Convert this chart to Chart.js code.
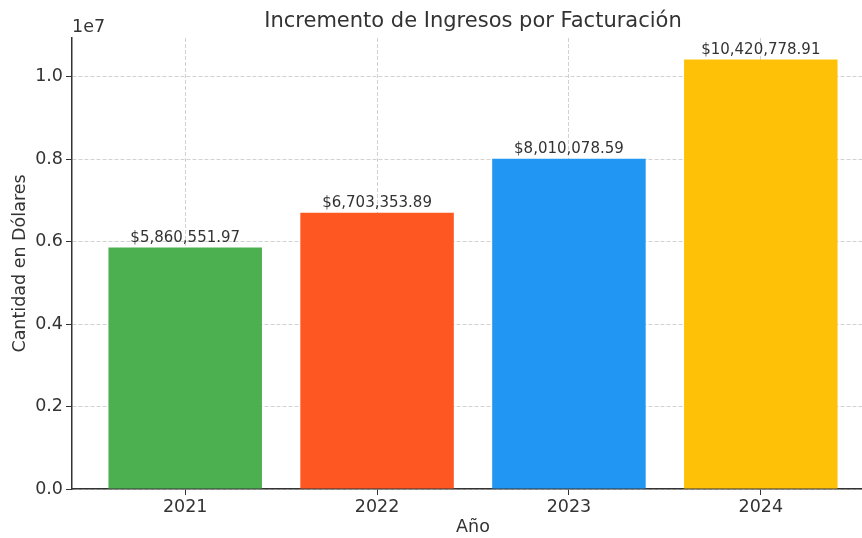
<!DOCTYPE html>
<html>
<head>
<meta charset="utf-8">
<script src="https://cdn.jsdelivr.net/npm/chart.js@4.4.1/dist/chart.umd.min.js"></script>
<style>
  html, body { margin: 0; padding: 0; background: #fff; overflow: hidden; }
  #wrap { width: 880px; height: 538px; }
</style>
</head>
<body>
<div id="wrap"><canvas id="revenueChart" width="880" height="538"></canvas></div>
<script>
const years = ['2021', '2022', '2023', '2024'];
const revenues = [5860551.97, 6703353.89, 8010078.59, 10420778.91];
const barColors = ['#4CAF50', '#FF5722', '#2196F3', '#FFC107'];
const yTicks = [0, 2000000, 4000000, 6000000, 8000000, 10000000];

const textColor = '#333333';
const fontFamily = 'DejaVu Sans';

function money(v) {
    return '$' + v.toLocaleString('en-US', { minimumFractionDigits: 2, maximumFractionDigits: 2 });
}

const extraText = {
    id: 'extraText',
    afterDraw(chart) {
        const ctx = chart.ctx;
        const area = chart.chartArea;
        ctx.save();
        ctx.fillStyle = textColor;

        // title
        ctx.font = '21px "' + fontFamily + '"';
        ctx.textAlign = 'center';
        ctx.textBaseline = 'middle';
        ctx.fillText('Incremento de Ingresos por Facturación', (area.left + area.right) / 2, 22);

        // offset text of the y axis
        ctx.font = '17.5px "' + fontFamily + '"';
        ctx.textAlign = 'left';
        ctx.textBaseline = 'bottom';
        ctx.fillText('1e7', area.left, area.top - 2);

        // value above each bar
        ctx.font = '15px "' + fontFamily + '"';
        ctx.textAlign = 'center';
        const meta = chart.getDatasetMeta(0);
        meta.data.forEach(function (bar, i) {
            ctx.fillText(money(revenues[i]), bar.x, bar.y - 2);
        });
        ctx.restore();
    }
};

const ctx = document.getElementById('revenueChart');
new Chart(ctx, {
    type: 'bar',
    data: {
        datasets: [{
            label: 'Ingresos',
            data: revenues.map(function (v, i) { return { x: i, y: v }; }),
            backgroundColor: barColors,
            borderWidth: 0,
            barPercentage: 0.8,
            categoryPercentage: 1.0
        }]
    },
    options: {
        responsive: false,
        animation: false,
        layout: { padding: { top: 38, left: 0, right: 6, bottom: 0 } },
        plugins: {
            legend: { display: false },
            tooltip: { enabled: false }
        },
        scales: {
            x: {
                type: 'linear',
                min: -0.59,
                max: 3.59,
                offset: false,
                z: 1,
                afterBuildTicks: function (scale) {
                    scale.ticks = years.map(function (y, i) { return { value: i }; });
                },
                afterFit: function (scale) { scale.height = 49; },
                ticks: {
                    color: textColor,
                    font: { family: fontFamily, size: 17.5 },
                    padding: 2,
                    maxRotation: 0,
                    callback: function (v) { return years[v]; }
                },
                grid: {
                    offset: false,
                    color: 'rgba(180,180,180,0.6)',
                    tickColor: textColor,
                    tickLength: 6,
                    lineWidth: 1
                },
                border: { display: true, color: textColor, width: 1.5, dash: [4, 2] },
                title: {
                    display: true,
                    text: 'Año',
                    color: textColor,
                    font: { family: fontFamily, size: 17.5 },
                    padding: { top: 0, bottom: 0 }
                }
            },
            y: {
                min: 0,
                max: Math.max.apply(null, revenues) * 1.05,
                z: 1,
                afterBuildTicks: function (scale) {
                    scale.ticks = yTicks.map(function (v) { return { value: v }; });
                },
                afterFit: function (scale) { scale.width = 72; },
                ticks: {
                    color: textColor,
                    font: { family: fontFamily, size: 17.5 },
                    padding: 3,
                    callback: function (v) { return (v / 1e7).toFixed(1); }
                },
                grid: {
                    color: 'rgba(180,180,180,0.6)',
                    tickColor: textColor,
                    tickLength: 6,
                    lineWidth: 1
                },
                border: { display: true, color: textColor, width: 1.5, dash: [4, 2] },
                title: {
                    display: true,
                    text: 'Cantidad en Dólares',
                    color: textColor,
                    font: { family: fontFamily, size: 17.5 },
                    padding: { top: 10, bottom: 0 }
                }
            }
        }
    },
    plugins: [extraText]
});
</script>
</body>
</html>
